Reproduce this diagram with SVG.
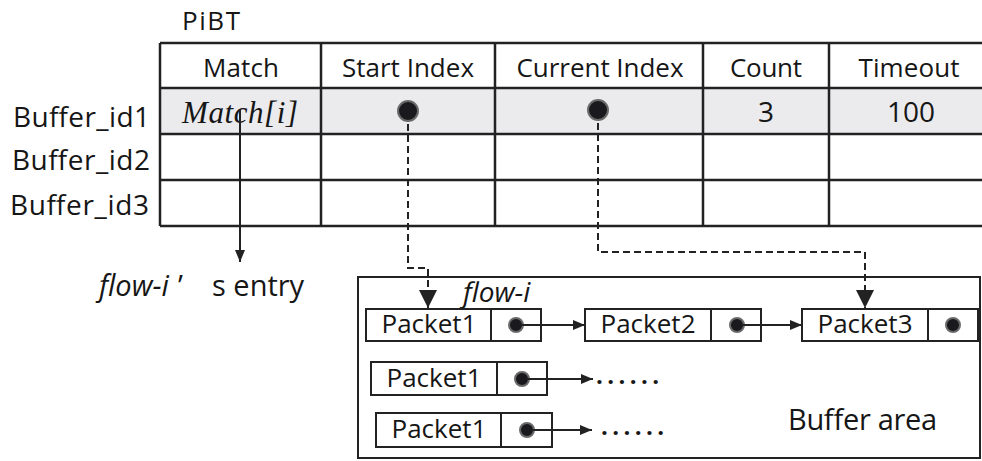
<svg xmlns="http://www.w3.org/2000/svg" width="982" height="461" viewBox="0 0 982 461">
  <defs>
    <style>
      .grid { stroke: #222; stroke-width: 2.5; fill: none; }
      .box { stroke: #222; stroke-width: 2; fill: #fff; }
      .t { font-family: "Open Sans", "Liberation Sans", sans-serif; fill: #161616; }
      .it { font-family: "Open Sans", "Liberation Sans", sans-serif; font-style: italic; fill: #161616; }
      .ser { font-family: "Liberation Serif", "Times New Roman", serif; font-style: italic; fill: #161616; }
      .ptr { fill: #1a1a1e; stroke: #6a6a6a; stroke-width: 2; }
      .link { stroke: #222; stroke-width: 2; fill: none; }
      .dash { stroke: #222; stroke-width: 2; fill: none; stroke-dasharray: 7 4; }
      .more { font-family: "Open Sans", "Liberation Sans", sans-serif; font-weight: bold; fill: #161616; }
    </style>
    <marker id="arrS" markerUnits="userSpaceOnUse" markerWidth="12" markerHeight="10" refX="12" refY="5" orient="auto">
      <path d="M0,0 L12,5 L0,10 z" fill="#222"/>
    </marker>
    <marker id="arrL" markerUnits="userSpaceOnUse" markerWidth="18" markerHeight="18" refX="18" refY="9" orient="auto">
      <path d="M0,0 L18,9 L0,18 z" fill="#222"/>
    </marker>
  </defs>

  <!-- PiBT table -->
  <g id="pibt-table">
    <text class="t" x="182" y="30" font-size="26" textLength="58">PiBT</text>
    <rect x="160" y="88" width="824" height="46" fill="#ebebee"/>
    <path class="grid" d="M160,43 H984 M160,88 H984 M160,134 H984 M160,180 H984 M160,226 H984"/>
    <path class="grid" d="M160,43 V226 M321,43 V226 M495,43 V226 M703,43 V226 M829,43 V226"/>
    <text class="t" x="241" y="77" font-size="26" text-anchor="middle" textLength="76">Match</text>
    <text class="t" x="408" y="77" font-size="26" text-anchor="middle" textLength="132">Start Index</text>
    <text class="t" x="600" y="77" font-size="26" text-anchor="middle" textLength="167">Current Index</text>
    <text class="t" x="766" y="77" font-size="26" text-anchor="middle" textLength="72">Count</text>
    <text class="t" x="909" y="77" font-size="26" text-anchor="middle" textLength="101">Timeout</text>
    <text class="ser" x="182" y="123" font-size="31" textLength="116">Match[i]</text>
    <text class="t" x="766" y="122" font-size="28" text-anchor="middle">3</text>
    <text class="t" x="911" y="122" font-size="28" text-anchor="middle" textLength="48">100</text>
    <circle class="ptr" cx="408" cy="111" r="10"/>
    <circle class="ptr" cx="598" cy="110" r="10"/>
  </g>

  <!-- row labels -->
  <g id="row-labels">
    <text class="t" x="13" y="127" font-size="28" textLength="137">Buffer_id1</text>
    <text class="t" x="12" y="170" font-size="28" textLength="138">Buffer_id2</text>
    <text class="t" x="10" y="215" font-size="28" textLength="139">Buffer_id3</text>
  </g>

  <g id="flow-entry">
    <text y="296" font-size="29"><tspan class="it" x="99">flow-i</tspan><tspan class="t" x="178" font-family="'Noto Sans CJK SC', sans-serif">’</tspan><tspan class="t" x="212"> </tspan><tspan class="t" x="212">s entry</tspan></text>
  </g>

  <!-- buffer area -->
  <g id="buffer-area">
    <rect class="box" x="358" y="277" width="622" height="181"/>
    <text class="it" x="463" y="302" font-size="28">flow-i</text>
    <text class="t" x="788" y="430" font-size="29" textLength="149">Buffer area</text>
  </g>

  <g id="packet1-a">
    <rect class="box" x="366" y="309" width="175" height="32"/>
    <line class="link" x1="491" y1="309" x2="491" y2="341"/>
    <text class="t" x="429" y="333" font-size="26" text-anchor="middle" textLength="95">Packet1</text>
    <circle class="ptr" cx="516" cy="325" r="7"/>
  </g>
  <g id="packet2">
    <rect class="box" x="585" y="309" width="176" height="32"/>
    <line class="link" x1="711" y1="309" x2="711" y2="341"/>
    <text class="t" x="648" y="333" font-size="26" text-anchor="middle" textLength="95">Packet2</text>
    <circle class="ptr" cx="737" cy="325" r="7"/>
  </g>
  <g id="packet3">
    <rect class="box" x="802" y="309" width="176" height="32"/>
    <line class="link" x1="928" y1="309" x2="928" y2="341"/>
    <text class="t" x="865" y="333" font-size="26" text-anchor="middle" textLength="95">Packet3</text>
    <circle class="ptr" cx="953" cy="325" r="7"/>
  </g>
  <g id="packet1-b">
    <rect class="box" x="371" y="362" width="176" height="33"/>
    <line class="link" x1="497" y1="362" x2="497" y2="395"/>
    <text class="t" x="434" y="387" font-size="26" text-anchor="middle" textLength="95">Packet1</text>
    <circle class="ptr" cx="522" cy="379" r="7"/>
    <text class="more" x="596" y="384" font-size="24" textLength="63">......</text>
  </g>
  <g id="packet1-c">
    <rect class="box" x="376" y="413" width="176" height="34"/>
    <line class="link" x1="501" y1="413" x2="501" y2="447"/>
    <text class="t" x="439" y="438" font-size="26" text-anchor="middle" textLength="95">Packet1</text>
    <circle class="ptr" cx="527" cy="430" r="7"/>
    <text class="more" x="601" y="435" font-size="24" textLength="63">......</text>
  </g>

  <!-- connectors -->
  <g id="connectors">
    <line class="link" x1="240" y1="110" x2="240" y2="262" marker-end="url(#arrS)"/>
    <path class="dash" d="M408,124 V268 H428 V308" marker-end="url(#arrL)"/>
    <path class="dash" d="M598,123 V252 H865 V308" marker-end="url(#arrL)"/>
    <line class="link" x1="522" y1="325" x2="585" y2="325" marker-end="url(#arrS)"/>
    <line class="link" x1="743" y1="325" x2="802" y2="325" marker-end="url(#arrS)"/>
    <line class="link" x1="528" y1="379" x2="593" y2="379" marker-end="url(#arrS)"/>
    <line class="link" x1="533" y1="430" x2="592" y2="430" marker-end="url(#arrS)"/>
  </g>
</svg>
